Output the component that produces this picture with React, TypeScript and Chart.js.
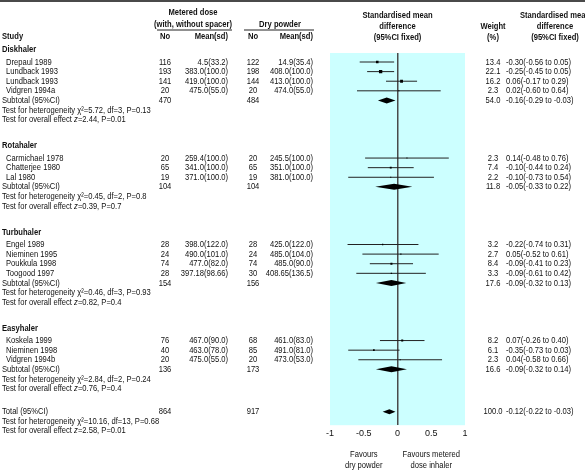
import React, { useEffect, useRef } from 'react';
import { Chart, registerables } from 'chart.js';
Chart.register(...registerables);

// ---------- data ----------
const groups = ['Diskhaler', 'Rotahaler', 'Turbuhaler', 'Easyhaler'];
const studies = ['Drepaul 1989', 'Lundback 1993', 'Lundback 1993', 'Vidgren 1994a', 'Carmichael 1978', 'Chatterjee 1980', 'Lal 1980', 'Engel 1989', 'Nieminen 1995', 'Poukkula 1998', 'Toogood 1997', 'Koskela 1999', 'Nieminen 1998', 'Vidgren 1994b'];
const studyGroup = [0, 0, 0, 0, 1, 1, 1, 2, 2, 2, 2, 3, 3, 3];
const mdiN = [116, 193, 141, 20, 20, 65, 19, 28, 24, 74, 28, 76, 40, 20];
const mdiMean = ['4.5(33.2)', '383.0(100.0)', '419.0(100.0)', '475.0(55.0)', '259.4(100.0)', '341.0(100.0)', '371.0(100.0)', '398.0(122.0)', '490.0(101.0)', '477.0(82.0)', '397.18(98.66)', '467.0(90.0)', '463.0(78.0)', '475.0(55.0)'];
const dpiN = [122, 198, 144, 20, 20, 65, 19, 28, 24, 74, 30, 68, 85, 20];
const dpiMean = ['14.9(35.4)', '408.0(100.0)', '413.0(100.0)', '474.0(55.0)', '245.5(100.0)', '351.0(100.0)', '381.0(100.0)', '425.0(122.0)', '485.0(104.0)', '485.0(90.0)', '408.65(136.5)', '461.0(83.0)', '491.0(81.0)', '473.0(53.0)'];
const weight = [13.4, 22.1, 16.2, 2.3, 2.3, 7.4, 2.2, 3.2, 2.7, 8.4, 3.3, 8.2, 6.1, 2.3];
const smd = [-0.30, -0.25, 0.06, 0.02, 0.14, -0.10, -0.10, -0.22, 0.05, -0.09, -0.09, 0.07, -0.35, 0.04];
const ciLow = [-0.56, -0.45, -0.17, -0.60, -0.48, -0.44, -0.73, -0.74, -0.52, -0.41, -0.61, -0.26, -0.73, -0.58];
const ciHigh = [-0.05, -0.05, 0.29, 0.64, 0.76, 0.24, 0.54, 0.31, 0.61, 0.23, 0.42, 0.40, 0.03, 0.66];
const ciText = ['-0.30(-0.56 to 0.05)', '-0.25(-0.45 to 0.05)', '0.06(-0.17 to 0.29)', '0.02(-0.60 to 0.64)', '0.14(-0.48 to 0.76)', '-0.10(-0.44 to 0.24)', '-0.10(-0.73 to 0.54)', '-0.22(-0.74 to 0.31)', '0.05(-0.52 to 0.61)', '-0.09(-0.41 to 0.23)', '-0.09(-0.61 to 0.42)', '0.07(-0.26 to 0.40)', '-0.35(-0.73 to 0.03)', '0.04(-0.58 to 0.66)'];

const subMdiN = [470, 104, 154, 136];
const subDpiN = [484, 104, 156, 173];
const subWeight = ['54.0', '11.8', '17.6', '16.6'];
const subSmd = [-0.16, -0.05, -0.09, -0.09];
const subLow = [-0.29, -0.33, -0.32, -0.32];
const subHigh = [-0.03, 0.22, 0.13, 0.14];
const subCiText = ['-0.16(-0.29 to -0.03)', '-0.05(-0.33 to 0.22)', '-0.09(-0.32 to 0.13)', '-0.09(-0.32 to 0.14)'];
const hetChi = ['5.72', '0.45', '0.46', '2.84'];
const hetDf = [3, 2, 3, 2];
const hetP = ['0.13', '0.8', '0.93', '0.24'];
const effZ = ['2.44', '0.39', '0.82', '0.76'];
const effP = ['0.01', '0.7', '0.4', '0.4'];

const totalMdiN = 864;
const totalDpiN = 917;
const totalWeight = '100.0';
const totalSmd = -0.12;
const totalLow = -0.22;
const totalHigh = -0.03;
const totalCiText = '-0.12(-0.22 to -0.03)';
const totalHet = { chi: '10.16', df: 13, p: '0.68' };
const totalEff = { z: '2.58', p: '0.01' };

const xTicks = [-1, -0.5, 0, 0.5, 1];

// ---------- row layout ----------
const studyRow: number[] = [];
const headRow: number[] = [];
const subRow: number[] = [];
{
  let r = 0;
  groups.forEach((_, gi) => {
    if (gi > 0) r = subRow[gi - 1] + 6;
    headRow[gi] = r - 1.3;
    let k = 0;
    studies.forEach((_, i) => {
      if (studyGroup[i] === gi) { studyRow[i] = r + k; k++; }
    });
    subRow[gi] = r + k;
  });
}
const totalRow = subRow[subRow.length - 1] + 4.4;

const FONT = '"Liberation Sans Narrow", "Arial Narrow", "Liberation Sans", Arial, sans-serif';
const TXT = '#111111';
const FS = 9.5;
const SX = 0.8; // horizontal condensing of the table text

type Seg = { t: string; it?: boolean };

function setFont(ctx: CanvasRenderingContext2D, size: number, bold = false, italic = false) {
  ctx.font = `${italic ? 'italic ' : ''}${bold ? 'bold ' : ''}${size}px ${FONT}`;
}
function text(ctx: CanvasRenderingContext2D, s: string, x: number, y: number, align: CanvasTextAlign = 'left', bold = false, size = FS) {
  ctx.save();
  setFont(ctx, size, bold);
  ctx.textAlign = align;
  ctx.textBaseline = 'middle';
  ctx.fillStyle = TXT;
  ctx.translate(x, y);
  ctx.scale(SX, 1);
  ctx.fillText(s, 0, 0);
  ctx.restore();
}
function rich(ctx: CanvasRenderingContext2D, segs: Seg[], x: number, y: number, size = FS) {
  let cx = x;
  segs.forEach((s) => {
    ctx.save();
    setFont(ctx, size, false, !!s.it);
    ctx.textAlign = 'left';
    ctx.textBaseline = 'middle';
    ctx.fillStyle = TXT;
    const w = ctx.measureText(s.t).width * SX;
    ctx.translate(cx, y);
    ctx.scale(SX, 1);
    ctx.fillText(s.t, 0, 0);
    ctx.restore();
    cx += w;
  });
}

const bgPlugin = {
  id: 'bg',
  beforeDraw(chart: any) {
    const { ctx, chartArea } = chart;
    ctx.save();
    ctx.fillStyle = '#ccffff';
    ctx.fillRect(chartArea.left, chartArea.top, chartArea.right - chartArea.left, chartArea.bottom - chartArea.top);
    ctx.restore();
  },
};

const forestPlugin = {
  id: 'forest',
  afterDatasetsDraw(chart: any) {
    const { ctx, scales } = chart;
    const xs = scales.x;
    const ys = scales.y;
    ctx.save();
    const diamond = (lo: number, est: number, hi: number, row: number, h: number) => {
      const y = ys.getPixelForValue(row);
      ctx.beginPath();
      ctx.moveTo(xs.getPixelForValue(lo), y);
      ctx.lineTo(xs.getPixelForValue(est), y - h);
      ctx.lineTo(xs.getPixelForValue(hi), y);
      ctx.lineTo(xs.getPixelForValue(est), y + h);
      ctx.closePath();
      ctx.fillStyle = '#000';
      ctx.fill();
    };
    groups.forEach((_, gi) => diamond(subLow[gi], subSmd[gi], subHigh[gi], subRow[gi], 3));
    diamond(totalLow, totalSmd, totalHigh, totalRow, 2.5);
    ctx.restore();
  },
  afterDraw(chart: any) {
    const { ctx, scales, width } = chart;
    const xs = scales.x;
    const ys = scales.y;
    const Y = (r: number) => ys.getPixelForValue(r);
    const X_NAME = 2, X_STUDY = 6, X_N1 = 165, X_M1 = 228, X_N2 = 253, X_M2 = 313, X_W = 493, X_CI = 506;
    const xMid = (xs.left + xs.right) / 2;
    ctx.save();
    // top rule
    ctx.fillStyle = '#4a4a4a';
    ctx.fillRect(0, 0, width, 2);
    // header
    text(ctx, 'Metered dose', 193, 12.5, 'center', true);
    text(ctx, '(with, without spacer)', 193, 24, 'center', true);
    text(ctx, 'Dry powder', 280, 24, 'center', true);
    ctx.fillStyle = '#222';
    ctx.fillRect(157, 29.5, 75, 1);
    ctx.fillRect(244, 29.5, 70, 1);
    text(ctx, 'Study', X_NAME, 36, 'left', true);
    text(ctx, 'No', X_N1, 36, 'center', true);
    text(ctx, 'Mean(sd)', X_M1, 36, 'right', true);
    text(ctx, 'No', X_N2, 36, 'center', true);
    text(ctx, 'Mean(sd)', X_M2, 36, 'right', true);
    text(ctx, 'Standardised mean', xMid, 15, 'center', true);
    text(ctx, 'difference', xMid, 26, 'center', true);
    text(ctx, '(95%CI fixed)', xMid, 37, 'center', true);
    text(ctx, 'Weight', X_W, 26, 'center', true);
    text(ctx, '(%)', X_W, 37, 'center', true);
    text(ctx, 'Standardised mean', 555, 15, 'center', true);
    text(ctx, 'difference', 555, 26, 'center', true);
    text(ctx, '(95%CI fixed)', 555, 37, 'center', true);

    groups.forEach((g, gi) => {
      text(ctx, g, X_NAME, Y(headRow[gi]), 'left', true);
      studies.forEach((s, i) => {
        if (studyGroup[i] !== gi) return;
        const y = Y(studyRow[i]);
        text(ctx, s, X_STUDY, y);
        text(ctx, String(mdiN[i]), X_N1, y, 'center');
        text(ctx, mdiMean[i], X_M1, y, 'right');
        text(ctx, String(dpiN[i]), X_N2, y, 'center');
        text(ctx, dpiMean[i], X_M2, y, 'right');
        text(ctx, weight[i].toFixed(1), X_W, y, 'center');
        text(ctx, ciText[i], X_CI, y);
      });
      const ys2 = Y(subRow[gi]);
      text(ctx, 'Subtotal (95%CI)', X_NAME, ys2);
      text(ctx, String(subMdiN[gi]), X_N1, ys2, 'center');
      text(ctx, String(subDpiN[gi]), X_N2, ys2, 'center');
      text(ctx, subWeight[gi], X_W, ys2, 'center');
      text(ctx, subCiText[gi], X_CI, ys2);
      rich(ctx, [{ t: `Test for heterogeneity χ²=${hetChi[gi]}, df=${hetDf[gi]}, P=${hetP[gi]}` }], X_NAME, Y(subRow[gi] + 1));
      rich(ctx, [{ t: 'Test for overall effect ' }, { t: 'z', it: true }, { t: `=${effZ[gi]}, P=${effP[gi]}` }], X_NAME, Y(subRow[gi] + 2));
    });
    const yt = Y(totalRow);
    text(ctx, 'Total (95%CI)', X_NAME, yt);
    text(ctx, String(totalMdiN), X_N1, yt, 'center');
    text(ctx, String(totalDpiN), X_N2, yt, 'center');
    text(ctx, totalWeight, X_W, yt, 'center');
    text(ctx, totalCiText, X_CI, yt);
    rich(ctx, [{ t: `Test for heterogeneity χ²=${totalHet.chi}, df=${totalHet.df}, P=${totalHet.p}` }], X_NAME, Y(totalRow + 1));
    rich(ctx, [{ t: 'Test for overall effect ' }, { t: 'z', it: true }, { t: `=${totalEff.z}, P=${totalEff.p}` }], X_NAME, Y(totalRow + 2));

    // favours labels
    const xl = xs.getPixelForValue(-0.5);
    const xr = xs.getPixelForValue(0.5);
    text(ctx, 'Favours', xl, 454, 'center');
    text(ctx, 'dry powder', xl, 465, 'center');
    text(ctx, 'Favours metered', xr, 454, 'center');
    text(ctx, 'dose inhaler', xr, 465, 'center');
    ctx.restore();
  },
};

export default function App() {
  const ref = useRef<HTMLCanvasElement | null>(null);
  useEffect(() => {
    document.body.style.margin = '0';
    const canvas = ref.current!;
    const ciLine: any[] = [];
    studies.forEach((_, i) => {
      ciLine.push({ x: ciLow[i], y: studyRow[i] });
      ciLine.push({ x: ciHigh[i], y: studyRow[i] });
      ciLine.push({ x: smd[i], y: null });
    });
    const chart = new Chart(canvas, {
      type: 'scatter',
      data: {
        datasets: [
          {
            data: studies.map((_, i) => ({ x: smd[i], y: studyRow[i] })),
            pointStyle: 'rect',
            pointRadius: weight.map((w) => 0.5 * Math.sqrt(w)),
            backgroundColor: '#000',
            borderWidth: 0,
            order: 0,
          } as any,
          {
            data: ciLine,
            showLine: true,
            spanGaps: false,
            borderColor: '#222',
            borderWidth: 1,
            pointRadius: 0,
            order: 1,
          } as any,
        ],
      },
      options: {
        animation: false,
        responsive: false,
        events: [],
        layout: { padding: { left: 330, right: 120, top: 53, bottom: 30 } },
        plugins: { legend: { display: false }, tooltip: { enabled: false } },
        scales: {
          x: {
            type: 'linear',
            min: -1,
            max: 1,
            afterBuildTicks: (scale: any) => { scale.ticks = xTicks.map((v) => ({ value: v })); },
            ticks: {
              font: { family: FONT, size: 9 },
              color: TXT,
              padding: 3,
              maxRotation: 0,
              autoSkip: false,
              callback: (v: any) => String(v),
            },
            grid: {
              drawTicks: false,
              color: (c: any) => (c.tick && c.tick.value === 0 ? '#4a4a4a' : 'rgba(0,0,0,0)'),
              lineWidth: 1.5,
            },
            border: { display: false },
          },
          y: {
            type: 'linear',
            display: false,
            reverse: true,
            min: -0.9375,
            max: 37.8125,
          },
        },
      },
      plugins: [bgPlugin, forestPlugin],
    });
    return () => chart.destroy();
  }, []);
  return (
    <div style={{ position: 'absolute', left: 0, top: 0, width: 585, height: 472, background: '#fff' }}>
      <canvas ref={ref} width={585} height={472} />
    </div>
  );
}
